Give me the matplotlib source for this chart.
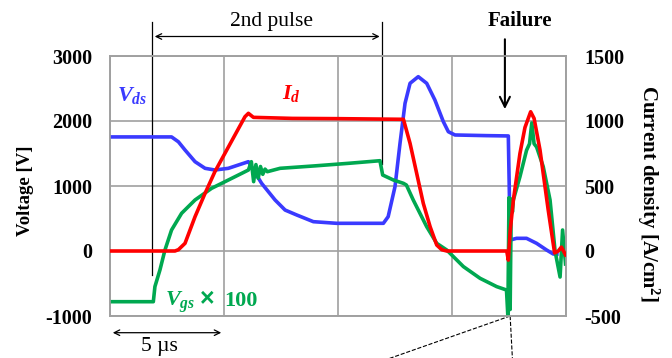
import matplotlib.pyplot as plt

plt.rcParams['font.family'] = ['Liberation Serif', 'DejaVu Serif']
plt.rcParams['mathtext.fontset'] = 'custom'
plt.rcParams['mathtext.it'] = 'Liberation Serif:italic:bold'
plt.rcParams['mathtext.rm'] = 'Liberation Serif:bold'
plt.rcParams['axes.unicode_minus'] = False

# time in microseconds
t_vds = [0, 2.7, 3.0, 3.29, 3.73, 4.17, 4.6, 5.19, 5.63, 6.07, 6.65, 7.24, 7.68, 8.19,
         8.92, 9.94, 11.99, 12.2, 12.5, 12.72, 12.94, 13.16, 13.52, 13.89, 14.25, 14.62,
         14.84, 15.13, 16.5, 17.47, 17.52, 17.57, 17.83, 18.27, 18.71, 19.15, 19.44, 19.6]
vds = [1755, 1755, 1680, 1554, 1374, 1272, 1246, 1272, 1323, 1374, 1041, 785, 630, 554,
       451, 426, 426, 528, 990, 1657, 2272, 2580, 2682, 2580, 2323, 1990,
       1835, 1785, 1775, 1770, 800, 170, 195, 195, 118, 15, -46, -50]

t_id = [0, 2.85, 3.0, 3.29, 3.73, 4.17, 4.6, 5.04, 5.48, 5.92, 6.07, 6.29, 8.0, 10.0,
        12.87, 13.16, 13.45, 13.74, 14.04, 14.33, 14.55, 14.77, 16.0, 17.4, 17.47, 17.55,
        17.69, 17.98, 18.2, 18.45, 18.6, 18.86, 19.22, 19.5, 19.66, 19.8, 19.98]
jd = [0, 0, 10, 59, 264, 444, 610, 751, 892, 1033, 1059, 1028, 1020, 1018,
      1013, 828, 598, 367, 187, 46, 10, 0, 0, 0, -70, 150,
      390, 750, 950, 1071, 1020, 777, 315, -15, 0, 30, -30]

t_vgs = [0, 1.9, 1.97, 2.19, 2.41, 2.7, 3.14, 3.73, 4.46, 5.19, 5.78, 6.07, 6.2, 6.3, 6.4,
         6.5, 6.6, 6.7, 6.8, 6.9, 7.46, 9.0, 10.5, 11.84, 11.96, 12.43, 12.87, 13.0, 13.3,
         13.89, 14.33, 14.77, 15.5, 16.23, 16.96, 17.39, 17.45, 17.5, 17.55, 17.6, 17.65,
         17.69, 17.98, 18.27, 18.4, 18.5, 18.6, 18.71, 19.0, 19.3, 19.52, 19.74, 19.85, 19.98]
vgs = [-780, -780, -548, -292, 15, 323, 580, 785, 965, 1092, 1195, 1246, 1374, 1067, 1330,
       1120, 1300, 1180, 1260, 1220, 1272, 1310, 1350, 1389, 1169, 1092, 1041, 1015, 785,
       374, 118, 15, -240, -420, -548, -600, -1000, 820, -900, 800, 600,
       785, 1143, 1550, 1650, 1970, 1650, 1600, 1300, 785, 0, -400, 323, -200]

fig = plt.figure(figsize=(6.72, 3.58), dpi=100)
ax = fig.add_axes([110 / 672, 1 - 316 / 358, 456 / 672, 260 / 358])
ax2 = ax.twinx()

ax.set_xlim(0, 20)
ax.set_ylim(-1000, 3000)
ax2.set_ylim(-500, 1500)
ax.set_xticks([0, 5, 10, 15, 20])
ax.set_xticklabels([])
ax.set_yticks([-1000, 0, 1000, 2000, 3000])
ax2.set_yticks([-500, 0, 500, 1000, 1500])
ax.grid(True, color='#a0a0a0', lw=1.2)
for a in (ax, ax2):
    a.tick_params(length=0, labelsize=14.5, pad=13)
    for s in a.spines.values():
        s.set_color('#a0a0a0')
        s.set_linewidth(1.2)
for lab in ax.get_yticklabels() + ax2.get_yticklabels():
    lab.set_fontweight('bold')

ax.plot(t_vds, vds, color='#3a3aff', lw=2.6, zorder=3)
ax.plot(t_vgs, vgs, color='#00a850', lw=2.6, zorder=3)
ax2.plot(t_id, jd, color='#ff0000', lw=2.6, zorder=4)

ax.set_ylabel('Voltage [V]', fontsize=13.5, fontweight='bold', va='center')
ax.yaxis.set_label_coords(-0.186, 0.48)
ax2.set_ylabel('Current density [A/cm$^2$]', fontsize=15, fontweight='bold',
               rotation=-90, va='center')
ax2.yaxis.set_label_coords(1.18, 0.47)

ax.text(0.3, 2300, r'$V_{ds}$', color='#3a3aff', fontsize=16)
ax2.text(7.55, 1170, r'$I_d$', color='#ff0000', fontsize=16)
ax.text(2.41, -846, r'$V_{gs}$', color='#00a850', fontsize=16, va='baseline')
ax.text(3.95, -846, '×', color='#00a850', fontsize=18, fontweight='bold', va='baseline',
        family='Liberation Sans')
ax.text(5.0, -846, '100', color='#00a850', fontsize=16, fontweight='bold', va='baseline')

# annotations outside the axes
ax.plot([1.84, 1.84], [3530, -370], color='black', lw=0.9, clip_on=False)
ax.plot([11.95, 11.95], [3530, 1340], color='black', lw=0.9, clip_on=False)
ax.annotate('', xy=(1.84, 3300), xytext=(11.95, 3300),
            arrowprops=dict(arrowstyle='<->', color='black', lw=0.9), annotation_clip=False)
ax.text(7.1, 3530, '2nd pulse', ha='center', va='center', fontsize=15.5)

ax.annotate('', xy=(17.32, 2140), xytext=(17.32, 3300),
            arrowprops=dict(arrowstyle='->', color='black', lw=1.5, mutation_scale=18),
            annotation_clip=False)
ax.text(17.98, 3540, 'Failure', ha='center', va='center', fontsize=15, fontweight='bold')

ax.annotate('', xy=(0, -1257), xytext=(5, -1257),
            arrowprops=dict(arrowstyle='<->', color='black', lw=0.9), annotation_clip=False)
ax.text(2.19, -1470, '5 µs', ha='center', va='center', fontsize=15.5)

ax.plot([17.55, 17.65], [-1000, -1660], color='black', lw=0.8, ls='--', clip_on=False)
ax.plot([17.55, 12.2], [-1000, -1660], color='black', lw=0.8, ls='--', clip_on=False)

fig.savefig('out.png', dpi=100)
